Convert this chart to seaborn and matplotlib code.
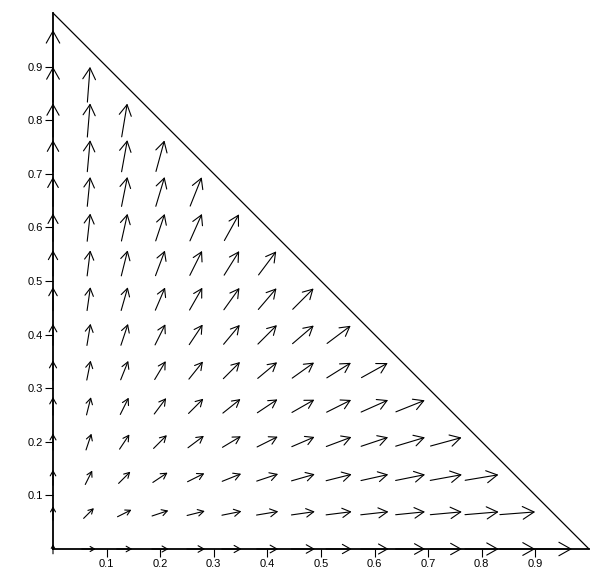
import numpy as np
import pandas as pd
import matplotlib
matplotlib.use("Agg")
import matplotlib.pyplot as plt
import seaborn as sns
from matplotlib.patches import FancyArrowPatch, ArrowStyle

# ---------------- data ----------------
# arrows sit on a lattice with step 1/15 inside the simplex x + y <= 1
lattice_steps = 15
tick_values = [0.1, 0.2, 0.3, 0.4, 0.5, 0.6, 0.7, 0.8, 0.9]
tick_labels = ["0.1", "0.2", "0.3", "0.4", "0.5", "0.6", "0.7", "0.8", "0.9"]

# arrow magnitudes (thousandths of the axis length)
# interior rows y = j/15 (j = 1..13); entries for x = i/15, i = 1..14-j
interior_mag = [
    [27, 29, 32, 34, 37, 41, 44, 48, 52, 55, 59, 63, 66],
    [29, 31, 33, 35, 38, 42, 45, 49, 52, 56, 60, 63],
    [32, 33, 35, 37, 40, 43, 46, 50, 53, 57, 60],
    [34, 35, 37, 39, 42, 45, 48, 51, 55, 58],
    [37, 38, 40, 42, 44, 47, 50, 53, 56],
    [41, 42, 43, 45, 47, 50, 52, 55],
    [44, 45, 46, 48, 50, 52, 55],
    [48, 49, 50, 51, 53, 55],
    [52, 52, 53, 55, 56],
    [55, 56, 57, 58],
    [59, 60, 60],
    [63, 63],
    [66],
]
# arrows lying on the x axis (pointing right) and y axis (pointing up), i = 1..14
x_axis_mag = [26, 29, 31, 34, 37, 40, 44, 48, 52, 55, 59, 63, 66, 70]
y_axis_mag = [26, 29, 31, 34, 37, 40, 44, 48, 52, 55, 59, 63, 66, 70]
origin_mag = 18

# simplex outline
edge_x = [0, 1, 0, 0]
edge_y = [0, 0, 1, 0]

# ---------------- build table ----------------
rows = []
for j, row in enumerate(interior_mag, start=1):
    for i, m in enumerate(row, start=1):
        x, y = i / lattice_steps, j / lattice_steps
        rows.append((x, y, m, np.arctan2(y, x)))
for i, m in enumerate(x_axis_mag, start=1):
    rows.append((i / lattice_steps, 0.0, m, 0.0))
for j, m in enumerate(y_axis_mag, start=1):
    rows.append((0.0, j / lattice_steps, m, np.pi / 2))
rows.append((0.0, 0.0, origin_mag, np.pi / 2))
field = pd.DataFrame(rows, columns=["x", "y", "mag", "angle"])
field["u"] = field["mag"] / 1000 * np.cos(field["angle"])
field["v"] = field["mag"] / 1000 * np.sin(field["angle"])

# ---------------- plot ----------------
sns.set_theme(style="white")
plt.rcParams["font.family"] = ["Liberation Sans", "DejaVu Sans"]

W, H, DPI = 590, 569, 100
fig = plt.figure(figsize=(W / DPI, H / DPI), dpi=DPI)
ax = fig.add_axes([53 / W, 20 / H, 536 / W, 536 / H])
ax.set_xlim(0, 1)
ax.set_ylim(0, 1)

# hypotenuse of the simplex
sns.lineplot(x=[1, 0], y=[0, 1], sort=False, color="black", lw=0.9, ax=ax)
for ln in ax.lines:
    ln.set_clip_on(False)

ax_len_pt = 536 * 72 / DPI
for _, r in field.iterrows():
    tail = (r.x - r.u / 2, r.y - r.v / 2)
    head = (r.x + r.u / 2, r.y + r.v / 2)
    scale = r.mag / 1000 * ax_len_pt
    arr = FancyArrowPatch(tail, head,
                          arrowstyle=ArrowStyle("->", head_length=0.32, head_width=0.18),
                          mutation_scale=scale, color="black", lw=0.8,
                          shrinkA=0, shrinkB=0, clip_on=False, zorder=3)
    ax.add_patch(arr)

for s in ["top", "right"]:
    ax.spines[s].set_visible(False)
for s in ["left", "bottom"]:
    ax.spines[s].set_color("black")
    ax.spines[s].set_linewidth(1.3)
    ax.spines[s].set_zorder(4)

ax.set_xticks(tick_values)
ax.set_xticklabels(tick_labels)
ax.set_yticks(tick_values)
ax.set_yticklabels(tick_labels)
ax.tick_params(axis="both", direction="out", length=6, width=0.8, pad=1.5,
               labelsize=8, color="black", labelcolor="black",
               bottom=True, left=True)
ax.set_xlabel("")
ax.set_ylabel("")
ax.grid(False)

fig.savefig("out.png", dpi=DPI)
